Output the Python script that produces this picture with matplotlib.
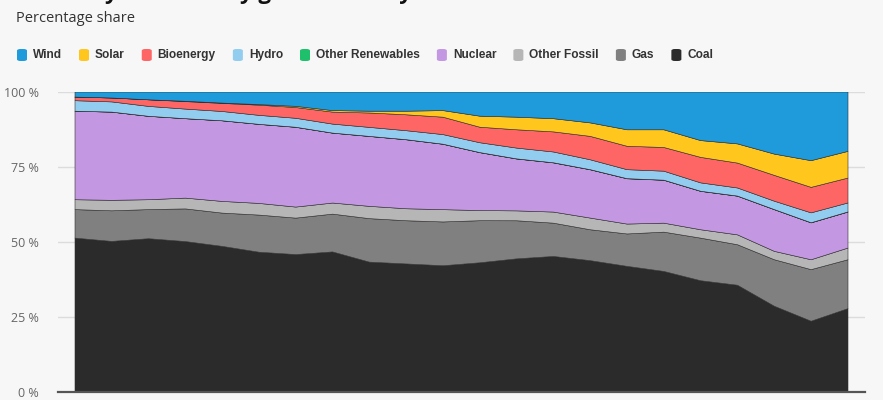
import numpy as np
import matplotlib
matplotlib.use("Agg")
import matplotlib.pyplot as plt
from matplotlib.patches import FancyBboxPatch

years = list(range(2000, 2022))

coal = [51.3, 50.2, 51.1, 50.2, 48.6, 46.7, 46.0, 46.7, 43.3, 42.7, 42.1,
        43.3, 44.4, 45.2, 43.8, 41.9, 40.2, 37.1, 35.6, 28.6, 23.6, 27.8]
gas = [9.5, 10.2, 9.7, 10.9, 11.1, 12.4, 12.2, 12.6, 14.5, 14.4, 14.6,
       14.1, 12.7, 11.1, 10.3, 10.8, 13.1, 14.2, 13.5, 15.5, 17.2, 16.3]
other_fossil = [3.3, 3.5, 3.3, 3.6, 3.9, 3.9, 3.7, 3.7, 4.1, 4.0, 4.1,
                3.4, 3.3, 3.7, 3.9, 3.3, 3.0, 2.8, 3.3, 2.8, 3.3, 3.9]
nuclear = [29.5, 29.4, 27.8, 26.5, 26.9, 26.4, 26.7, 23.3, 23.3, 23.0, 21.8,
           19.4, 17.3, 16.4, 16.1, 15.1, 14.3, 12.8, 12.9, 13.9, 12.3, 12.0]
other_renewables = [0.01, 0.01, 0.01, 0.01, 0.01, 0.02, 0.02, 0.02, 0.03, 0.03, 0.03,
                    0.03, 0.04, 0.04, 0.04, 0.04, 0.03, 0.03, 0.03, 0.03, 0.04, 0.04]
hydro = [3.5, 3.4, 3.3, 3.2, 3.1, 3.0, 3.0, 3.0, 3.0, 3.0, 3.2,
         3.3, 3.6, 3.6, 3.3, 3.0, 3.0, 2.8, 2.7, 2.8, 3.3, 3.0]
bioenergy = [1.2, 1.3, 2.2, 2.5, 2.7, 3.4, 3.6, 4.0, 4.8, 5.3, 5.8,
             5.2, 6.1, 6.7, 7.8, 7.8, 7.9, 8.5, 8.3, 8.6, 8.5, 8.3]
solar = [0.0, 0.0, 0.0, 0.1, 0.1, 0.2, 0.4, 0.5, 0.6, 1.2, 2.2,
         3.7, 4.2, 4.4, 4.5, 5.5, 5.9, 5.6, 6.4, 7.1, 8.9, 8.9]
wind = [1.7, 2.0, 2.6, 3.1, 3.7, 4.2, 4.8, 6.2, 6.4, 6.4, 6.2,
        8.1, 8.4, 8.9, 10.3, 12.6, 12.6, 16.2, 17.3, 20.7, 22.9, 19.8]

# legend order (top of stack first)
labels = ["Wind", "Solar", "Bioenergy", "Hydro", "Other Renewables",
          "Nuclear", "Other Fossil", "Gas", "Coal"]
colors = ["#1f9ada", "#ffc61e", "#fe6565", "#92cdef", "#1fc06c",
          "#c497e2", "#b6b6b6", "#808080", "#2b2b2b"]
series = [wind, solar, bioenergy, hydro, other_renewables,
          nuclear, other_fossil, gas, coal]

data = np.array(series[::-1], dtype=float)
data = data / data.sum(axis=0) * 100

bg = "#f7f7f7"
fig = plt.figure(figsize=(8.83, 4.0), dpi=100, facecolor=bg)

# axes span a bit wider than the data so the grid sticks out on both sides
W, H = 883, 400
ax = fig.add_axes([58 / W, 8 / H, (865 - 58) / W, 300 / H], facecolor=bg)
step = (848 - 75) / 21
ax.set_xlim(2000 - 17 / step, 2021 + 17 / step)
ax.set_ylim(0, 100)

ax.stackplot(years, data, colors=colors[::-1], linewidth=0.4,
             edgecolors=colors[::-1], zorder=2)

ax.set_yticks([0, 25, 50, 75, 100])
ax.set_yticklabels(["0 %", "25 %", "50 %", "75 %", "100 %"],
                   fontfamily="Open Sans", fontsize=9, color="#666666")
ax.tick_params(axis="y", length=0, pad=14)
ax.set_xticks([])
ax.grid(axis="y", color="#dcdcdc", linewidth=1, zorder=0)
ax.set_axisbelow(True)
for s in ax.spines.values():
    s.set_visible(False)
ax.axhline(0, color="#555555", linewidth=1.6, zorder=3, clip_on=False)

# title (cut off at the top of the picture) and subtitle
fig.text(16 / W, 1.0 + 1 / H, "Germany's electricity generation by source",
         fontfamily="Open Sans", fontweight="bold", fontsize=16,
         color="#111111", va="baseline", ha="left")
fig.text(16 / W, 1 - 19 / H, "Percentage share", fontfamily="Open Sans",
         fontsize=10.5, color="#333333", va="center", ha="left")

# legend row
fig.canvas.draw()
renderer = fig.canvas.get_renderer()
x = 17
yc = 55
for lab, col in zip(labels, colors):
    box = FancyBboxPatch((x / W, (H - yc - 6) / H), 10 / W, 12 / H,
                         boxstyle="round,pad=0,rounding_size=0.004",
                         transform=fig.transFigure, facecolor=col,
                         edgecolor="none")
    fig.patches.append(box)
    t = fig.text((x + 16) / W, 1 - yc / H, lab, fontfamily="Liberation Sans",
                 fontweight="bold", fontsize=8.6, color="#333333",
                 va="center", ha="left")
    bb = t.get_window_extent(renderer)
    x = bb.x1 + 17

fig.savefig("out.png", dpi=100, facecolor=bg)
